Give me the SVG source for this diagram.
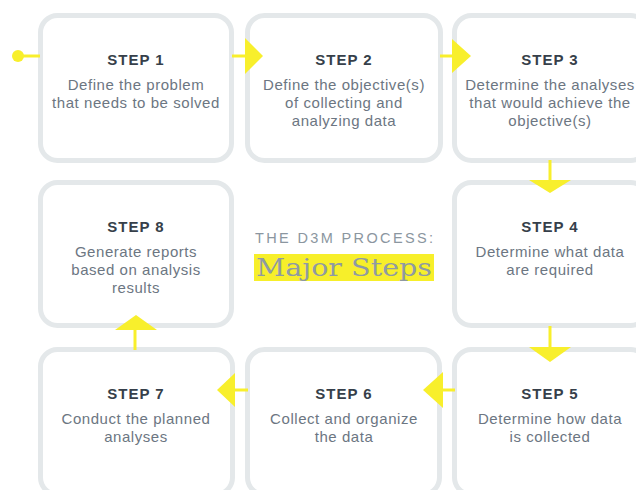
<svg xmlns="http://www.w3.org/2000/svg" width="636" height="490" viewBox="0 0 636 490">
<defs>
<style>
.box{fill:#ffffff;stroke:#e4e8ea;stroke-width:5}
.h{font-family:"Liberation Sans",Arial,sans-serif;font-weight:700;font-size:15px;fill:#363f4a;text-anchor:middle;letter-spacing:1px}
.d{font-family:"Liberation Sans",Arial,sans-serif;font-size:15px;fill:#6c7682;text-anchor:middle;letter-spacing:0.55px}
.ln{stroke:#f8ef2c;stroke-width:3;fill:none}
.ar{fill:#f8ef2c}
.t1{font-family:"Liberation Sans",Arial,sans-serif;font-size:14.5px;fill:#8b96a0}
.t2{font-family:"DejaVu Serif",serif;font-size:25px;fill:#8f9aa3}
</style>
</defs>
<rect width="636" height="490" fill="#ffffff"/>
<g id="step1"><rect class="box" x="40.5" y="15.5" width="191" height="145" rx="17"/>
<text class="h" x="136" y="65">STEP 1</text>
<text class="d" x="136" y="90">Define the problem</text>
<text class="d" x="136" y="108">that needs to be solved</text></g>
<g id="step2"><rect class="box" x="247.5" y="15.5" width="193" height="145" rx="17"/>
<text class="h" x="344" y="65">STEP 2</text>
<text class="d" x="344" y="90">Define the objective(s)</text>
<text class="d" x="344" y="108">of collecting and</text>
<text class="d" x="344" y="126">analyzing data</text></g>
<g id="step3"><rect class="box" x="454.5" y="15.5" width="193" height="145" rx="17"/>
<text class="h" x="550" y="65">STEP 3</text>
<text class="d" x="550" y="90">Determine the analyses</text>
<text class="d" x="550" y="108">that would achieve the</text>
<text class="d" x="550" y="126">objective(s)</text></g>
<g id="step4"><rect class="box" x="454.5" y="182.5" width="193" height="143" rx="17"/>
<text class="h" x="550" y="232">STEP 4</text>
<text class="d" x="550" y="257">Determine what data</text>
<text class="d" x="550" y="275">are required</text></g>
<g id="step5"><rect class="box" x="454.5" y="349.5" width="193" height="145" rx="17"/>
<text class="h" x="550" y="399">STEP 5</text>
<text class="d" x="550" y="424">Determine how data</text>
<text class="d" x="550" y="442">is collected</text></g>
<g id="step6"><rect class="box" x="247.5" y="349.5" width="192" height="145" rx="17"/>
<text class="h" x="344" y="399">STEP 6</text>
<text class="d" x="344" y="424">Collect and organize</text>
<text class="d" x="344" y="442">the data</text></g>
<g id="step7"><rect class="box" x="40.5" y="349.5" width="192" height="145" rx="17"/>
<text class="h" x="136" y="399">STEP 7</text>
<text class="d" x="136" y="424">Conduct the planned</text>
<text class="d" x="136" y="442">analyses</text></g>
<g id="step8"><rect class="box" x="40.5" y="182.5" width="191" height="143" rx="17"/>
<text class="h" x="136" y="232">STEP 8</text>
<text class="d" x="136" y="257">Generate reports</text>
<text class="d" x="136" y="275">based on analysis</text>
<text class="d" x="136" y="293">results</text></g>
<g id="title">
<text class="t1" x="255" y="243" textLength="178">THE D3M PROCESS:</text>
<rect x="254" y="254" width="180" height="27" fill="#f7ef2a"/>
<text class="t2" x="256" y="276" textLength="176" lengthAdjust="spacingAndGlyphs">Major Steps</text>
</g>
<g id="connectors">
<circle class="ar" cx="18" cy="56" r="6"/>
<line class="ln" x1="18" y1="56" x2="40" y2="56"/>
<line class="ln" x1="232" y1="56" x2="247" y2="56"/>
<polygon class="ar" points="245,38 263,56 245,74"/>
<line class="ln" x1="440" y1="56" x2="454" y2="56"/>
<polygon class="ar" points="452,39 471,56 452,73"/>
<line class="ln" x1="550" y1="160" x2="550" y2="182"/>
<polygon class="ar" points="529,180 571,180 550,193"/>
<line class="ln" x1="550" y1="326" x2="550" y2="349"/>
<polygon class="ar" points="529,347 571,347 550,362"/>
<line class="ln" x1="455" y1="390" x2="440" y2="390"/>
<polygon class="ar" points="443,372 443,408 423,390"/>
<line class="ln" x1="248" y1="390" x2="232" y2="390"/>
<polygon class="ar" points="235,373 235,407 217,390"/>
<line class="ln" x1="135" y1="350" x2="135" y2="326"/>
<polygon class="ar" points="115,330 157,330 136,315"/>
</g>
</svg>
